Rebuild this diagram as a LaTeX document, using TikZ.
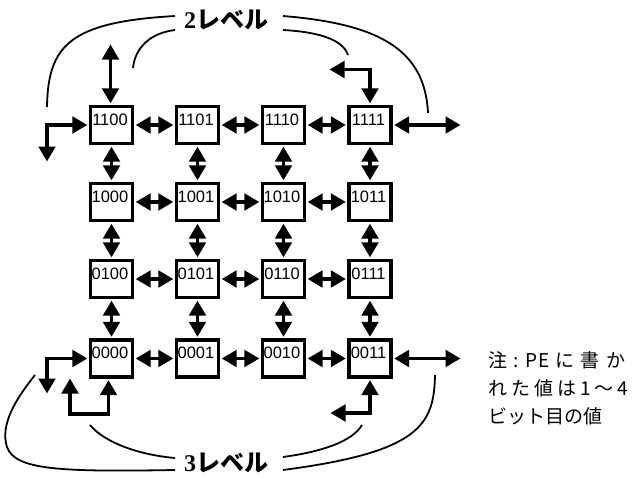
\documentclass[tikz,border=0pt]{standalone}
\usepackage{fontspec}
\setmainfont{Liberation Sans}
\newfontfamily\jpfont{Noto Sans CJK JP}
\newfontfamily\serifnum{Liberation Serif}
\usetikzlibrary{arrows.meta}
\begin{document}
\begin{tikzpicture}[x=1pt,y=-1pt,
  pe/.style={draw, line width=3.3pt, minimum width=42pt, minimum height=37pt, inner sep=0pt},
  num/.style={font=\fontsize{16.5}{16.5}\selectfont, anchor=base, inner sep=0pt, xshift=-1.5pt},
  link/.style={line width=3.5pt, shorten <=1.5pt, shorten >=1.5pt,
    {Triangle[length=15pt,width=16.5pt]}-{Triangle[length=15pt,width=16.5pt]}},
  brace/.style={line width=1.8pt},
  lvl/.style={font=\jpfont\bfseries\fontsize{24}{24}\selectfont, inner sep=0pt},
  note/.style={font=\jpfont\fontsize{19}{19}\selectfont, anchor=base west, inner sep=0pt}
]
\useasboundingbox (0,0) rectangle (632,479);
\foreach \lab/\x/\y in {1100/111.5/125,1101/197.5/125,1110/283.5/125,1111/370/125,
  1000/111.5/202,1001/197.5/202,1010/283.5/202,1011/370/202,
  0100/111.5/279,0101/197.5/279,0110/283.5/279,0111/370/279,
  0000/111.5/358.5,0001/197.5/358.5,0010/283.5/358.5,0011/370/358.5}{
  \node[pe] (b\lab) at (\x,\y) {};
  \node[num] (t\lab) at (b\lab.center) {\lab};
}
% horizontal links
\foreach \a/\b in {1100/1101,1101/1110,1110/1111,1000/1001,1001/1010,1010/1011,
  0100/0101,0101/0110,0110/0111,0000/0001,0001/0010,0010/0011}{
  \draw[link] (b\a) -- (b\b);
}
% vertical links
\foreach \a/\b in {1100/1000,1101/1001,1110/1010,1111/1011,1000/0100,1001/0101,1010/0110,1011/0111,
  0100/0000,0101/0001,0110/0010,0111/0011}{
  \draw[link] (b\a) -- (b\b);
}
% external links
\coordinate (u1100) at (110.5,43);
\draw[link] (u1100) -- (b1100.north -| u1100);
\coordinate (l1100) at (47,163);
\draw[link] (l1100) |- (b1100.west);
\coordinate (u1111) at (328,69.5);
\draw[link] (u1111) -| (b1111.north);
\coordinate (r1111) at (462,125);
\draw[link] (b1111.east) -- (r1111);
\coordinate (l0000) at (47,395);
\draw[link] (l0000) |- (b0000.west);
\coordinate (s0000) at (70,377);
\coordinate (k0000) at (70,414);
\coordinate (m0000) at (108.5,414);
\draw[link] (s0000) -- (k0000) -- (m0000) -- (b0000.south -| m0000);
\coordinate (s0011) at (329,413);
\draw[link] (s0011) -| (b0011.south);
\coordinate (r0011) at (462,358.5);
\draw[link] (b0011.east) -- (r0011);
% level labels
\node[lvl] (lv2) at (226,20) {{\serifnum\bfseries 2}レベル};
\node[lvl] (lv3) at (226,463) {{\serifnum\bfseries 3}レベル};
% braces for level 2
\draw[brace] (175,16) .. controls (70,22) and (48,45) .. (47,107);
\draw[brace] (175,30) .. controls (150,33) and (135,48) .. (133,68);
\draw[brace] (283,16) .. controls (380,24) and (425,50) .. (428,113);
\draw[brace] (283,30) .. controls (320,32) and (343,40) .. (348,55);
% braces for level 3
\draw[brace] (35,375) .. controls (15,400) and (0,425) .. (7,447) .. controls (15,470) and (60,472) .. (175,470);
\draw[brace] (90,425) .. controls (105,443) and (140,455) .. (175,458);
\draw[brace] (435,375) .. controls (434,425) and (420,452) .. (283,470);
\draw[brace] (362,425) .. controls (352,442) and (320,452) .. (283,457);
% note
\node[note] (n1) at (488,367) {\makebox[137pt][s]{注\hfil :\hfil P\kern1pt E\hfil に\hfil 書\hfil か}};
\node[note] (n2) at (488,395) {\makebox[140pt][s]{れ\hfil た\hfil 値\hfil は\hfil 1\hfil ～\hfil 4}};
\node[note] (n3) at (488,423) {ビット目の値};
\end{tikzpicture}
\end{document}
